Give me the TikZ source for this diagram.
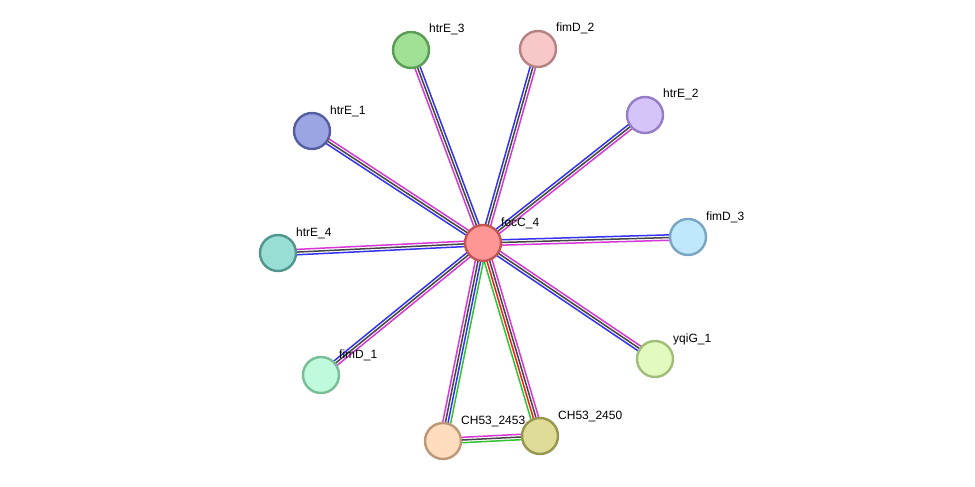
\documentclass[tikz,border=0pt]{standalone}
\usepackage{fontspec}
\setmainfont{Liberation Sans}
\usetikzlibrary{calc,backgrounds}
\definecolor{eblue}{RGB}{50,50,245}
\definecolor{eblack}{RGB}{70,70,70}
\definecolor{emag}{RGB}{215,55,215}
\definecolor{egreen}{RGB}{50,195,50}
\definecolor{ered}{RGB}{245,30,30}
\definecolor{fFocC}{RGB}{255,150,150}\definecolor{bFocC}{RGB}{195,85,85}
\definecolor{fHtrEiii}{RGB}{160,225,150}\definecolor{bHtrEiii}{RGB}{90,155,85}
\definecolor{fFimDii}{RGB}{248,200,200}\definecolor{bFimDii}{RGB}{180,130,130}
\definecolor{fHtrEii}{RGB}{212,196,250}\definecolor{bHtrEii}{RGB}{150,125,200}
\definecolor{fHtrEi}{RGB}{155,165,228}\definecolor{bHtrEi}{RGB}{85,95,160}
\definecolor{fFimDiii}{RGB}{192,232,252}\definecolor{bFimDiii}{RGB}{120,165,195}
\definecolor{fHtrEiv}{RGB}{152,222,212}\definecolor{bHtrEiv}{RGB}{80,150,140}
\definecolor{fFimDi}{RGB}{192,250,220}\definecolor{bFimDi}{RGB}{120,190,150}
\definecolor{fYqiG}{RGB}{226,250,192}\definecolor{bYqiG}{RGB}{160,190,120}
\definecolor{fCHiii}{RGB}{255,220,190}\definecolor{bCHiii}{RGB}{190,150,120}
\definecolor{fCHo}{RGB}{222,220,150}\definecolor{bCHo}{RGB}{150,150,80}
\tikzset{
  prot/.style={circle, line width=2.4pt, minimum size=36pt, inner sep=0pt},
  lbl/.style={anchor=base west, font=\fontsize{12}{14}\selectfont, inner sep=0pt},
  eln/.style={line width=1.5pt},
}
\newcommand{\eline}[4]{\draw[eln,#4] ($(#1)!#3!90:(#2)$) -- ($(#2)!#3!-90:(#1)$);}
\newcommand{\stdedge}[2]{\eline{#1}{#2}{2.7pt}{eblue}\eline{#1}{#2}{0pt}{eblack}\eline{#1}{#2}{-2.7pt}{emag}}
\begin{document}
\begin{tikzpicture}[x=1pt,y=-1pt]
\useasboundingbox (0,0) rectangle (975,487);
\node[prot, draw=bFocC, fill=fFocC] (focC) at (483,243) {};
\node[prot, draw=bHtrEiii, fill=fHtrEiii] (htrE3) at (411,50) {};
\node[prot, draw=bFimDii, fill=fFimDii] (fimD2) at (538,49) {};
\node[prot, draw=bHtrEii, fill=fHtrEii] (htrE2) at (645,115) {};
\node[prot, draw=bHtrEi, fill=fHtrEi] (htrE1) at (312,131) {};
\node[prot, draw=bFimDiii, fill=fFimDiii] (fimD3) at (688,237) {};
\node[prot, draw=bHtrEiv, fill=fHtrEiv] (htrE4) at (278,253) {};
\node[prot, draw=bFimDi, fill=fFimDi] (fimD1) at (321,375) {};
\node[prot, draw=bYqiG, fill=fYqiG] (yqiG) at (655,359) {};
\node[prot, draw=bCHiii, fill=fCHiii] (ch2453) at (443,441) {};
\node[prot, draw=bCHo, fill=fCHo] (ch2450) at (540,436) {};
\node[lbl] (lfocC) at ($(focC)+(18,-17)$) {focC\_4};
\node[lbl] (lhtrE3) at ($(htrE3)+(18,-17)$) {htrE\_3};
\node[lbl] (lfimD2) at ($(fimD2)+(18,-17)$) {fimD\_2};
\node[lbl] (lhtrE2) at ($(htrE2)+(18,-17)$) {htrE\_2};
\node[lbl] (lhtrE1) at ($(htrE1)+(18,-17)$) {htrE\_1};
\node[lbl] (lfimD3) at ($(fimD3)+(18,-17)$) {fimD\_3};
\node[lbl] (lhtrE4) at ($(htrE4)+(18,-17)$) {htrE\_4};
\node[lbl] (lfimD1) at ($(fimD1)+(18,-17)$) {fimD\_1};
\node[lbl] (lyqiG) at ($(yqiG)+(18,-17)$) {yqiG\_1};
\node[lbl] (lch2453) at ($(ch2453)+(18,-17)$) {CH53\_2453};
\node[lbl] (lch2450) at ($(ch2450)+(18,-17)$) {CH53\_2450};
\begin{scope}[on background layer]
\fill[white] (0,0) rectangle (975,487);
\stdedge{htrE3}{focC}
\stdedge{focC}{fimD2}
\stdedge{focC}{htrE2}
\stdedge{focC}{htrE1}
\stdedge{focC}{fimD3}
\stdedge{focC}{htrE4}
\stdedge{fimD1}{focC}
\stdedge{yqiG}{focC}
\eline{focC}{ch2453}{4pt}{egreen}
\eline{focC}{ch2453}{1.33pt}{eblue}
\eline{focC}{ch2453}{-1.33pt}{eblack}
\eline{focC}{ch2453}{-4pt}{emag}
\eline{focC}{ch2450}{4pt}{emag}
\eline{focC}{ch2450}{1.33pt}{eblack}
\eline{focC}{ch2450}{-1.33pt}{ered}
\eline{focC}{ch2450}{-4pt}{egreen}
\eline{ch2453}{ch2450}{2.7pt}{emag}
\eline{ch2453}{ch2450}{0pt}{eblack}
\eline{ch2453}{ch2450}{-2.7pt}{egreen}
\end{scope}
\end{tikzpicture}
\end{document}
